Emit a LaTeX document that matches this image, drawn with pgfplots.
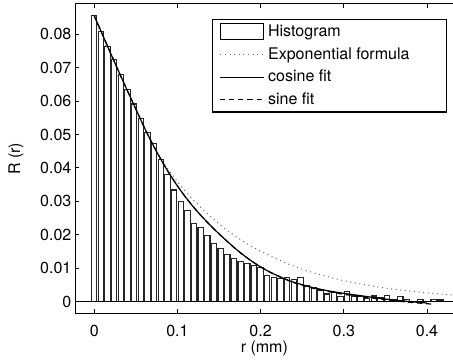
\documentclass[border=0pt]{standalone}
\usepackage{pgfplots}
\pgfplotsset{compat=1.18}
\usepackage{pgfplotstable}
\usepackage{fontspec}
\setmainfont{TeX Gyre Heros}

\pgfplotstableread{
x y
0.000 0.0855
0.008 0.0808
0.016 0.0763
0.024 0.0724
0.032 0.0678
0.040 0.0634
0.048 0.0591
0.056 0.0549
0.064 0.0507
0.072 0.0474
0.080 0.0425
0.088 0.0379
0.096 0.0334
0.104 0.0300
0.112 0.0272
0.120 0.0233
0.128 0.0223
0.136 0.0198
0.144 0.0175
0.152 0.0160
0.160 0.0140
0.168 0.0130
0.176 0.0119
0.184 0.0114
0.192 0.0107
0.200 0.0101
0.208 0.0077
0.216 0.0072
0.224 0.0070
0.232 0.0073
0.240 0.0067
0.248 0.0072
0.256 0.0049
0.264 0.0043
0.272 0.0035
0.280 0.0023
0.288 0.0027
0.296 0.0015
0.304 0.0031
0.312 0.0017
0.320 0.0015
0.328 0.0009
0.336 0.0017
0.344 0.0013
0.352 0.0018
0.360 0.0005
0.368 0.0015
0.376 0.0007
0.384 0.0001
0.392 0.0007
0.400 0.0001
0.408 0.0006
0.416 0.0005
0.424 0.0001
0.432 0.0001
}\histdata

\pgfplotstableread{
x y
0.00 0.0857
0.02 0.0720
0.04 0.0605
0.06 0.0509
0.08 0.0427
0.10 0.0359
0.12 0.0302
0.14 0.0254
0.16 0.0213
0.18 0.0179
0.20 0.0151
0.22 0.0127
0.24 0.0106
0.26 0.00894
0.28 0.00751
0.30 0.00631
0.32 0.00530
0.34 0.00446
0.36 0.00375
0.38 0.00315
0.40 0.00264
0.42 0.00222
0.44 0.00187
}\expdata

\pgfplotstableread{
x y
0.00 0.0855
0.01 0.0798
0.02 0.0741
0.03 0.0685
0.04 0.0630
0.05 0.0576
0.06 0.0522
0.07 0.0472
0.08 0.0426
0.09 0.0384
0.10 0.0346
0.11 0.0312
0.12 0.0281
0.13 0.0253
0.14 0.0227
0.15 0.0203
0.16 0.0180
0.17 0.0158
0.18 0.0138
0.19 0.0120
0.20 0.0104
0.21 0.0090
0.22 0.0078
0.23 0.0067
0.24 0.0058
0.26 0.0044
0.28 0.0033
0.30 0.0025
0.32 0.0018
0.34 0.0011
0.36 0.0005
0.38 0.0000
0.40 -0.0004
}\cosdata

\pgfplotstableread{
x y
0.00 0.0855
0.01 0.0798
0.02 0.0741
0.03 0.0685
0.04 0.0630
0.05 0.0576
0.06 0.0522
0.07 0.0472
0.08 0.0426
0.09 0.0384
0.10 0.0346
0.11 0.0312
0.12 0.0281
0.13 0.0253
0.14 0.0227
0.15 0.0203
0.16 0.0180
0.17 0.0158
0.18 0.0138
0.19 0.0120
0.20 0.0104
0.21 0.0090
0.22 0.0078
0.23 0.0067
0.24 0.0057
0.26 0.0042
0.28 0.0031
0.30 0.0022
0.32 0.0015
0.34 0.0009
0.36 0.0003
0.38 -0.0002
0.40 -0.0006
0.405 -0.0007
}\sindata

\begin{document}
\fontsize{8}{9.6}\selectfont
\begin{tikzpicture}
\begin{axis}[
  scale only axis,
  width=189pt, height=154.5pt,
  xmin=-0.023, xmax=0.432,
  ymin=-0.0035, ymax=0.089,
  xtick={0,0.1,0.2,0.3,0.4},
  xticklabels={0,0.1,0.2,0.3,0.4},
  ytick={0,0.01,0.02,0.03,0.04,0.05,0.06,0.07,0.08},
  yticklabels={0,0.01,0.02,0.03,0.04,0.05,0.06,0.07,0.08},
  ytick pos=left,
  tick align=inside,
  major tick length=2pt,
  tick style={black, line width=0.4pt},
  axis line style={black, line width=0.5pt},
  xticklabel style={yshift=-3pt},
  yticklabel style={xshift=1pt},
  xlabel={r (mm)},
  ylabel={R (r)},
  xlabel style={at={(axis description cs:0.5,0)}, anchor=center, yshift=-17.5pt},
  ylabel style={at={(axis description cs:0,0.5)}, anchor=center, yshift=29.5pt},
  legend cell align=left,
  legend style={at={(1,1)}, anchor=north east, xshift=-3.2pt, yshift=-7.5pt,
    draw=black, line width=0.6pt, inner xsep=3.5pt, inner ysep=0.5pt,
    row sep=0.3pt, fill=white},
]
\addlegendimage{legend image code/.code={\draw[black, line width=0.5pt, fill=white] (0pt,-3.9pt) rectangle (21.5pt,3.9pt);}}
\addlegendentry{Histogram}
\addlegendimage{legend image code/.code={\draw[black!60, line width=0.5pt, dash pattern=on 0.5pt off 1.8pt] (0pt,0pt) -- (21.5pt,0pt);}}
\addlegendentry{Exponential formula\hspace*{13pt}}
\addlegendimage{legend image code/.code={\draw[black, line width=0.6pt] (0pt,0pt) -- (21.5pt,0pt);}}
\addlegendentry{cosine fit}
\addlegendimage{legend image code/.code={\draw[black, line width=0.6pt, dash pattern=on 2.5pt off 2pt] (0pt,0pt) -- (21.5pt,0pt);}}
\addlegendentry{sine fit}

\addplot[forget plot, black!60, line width=0.5pt, dash pattern=on 0.5pt off 1.8pt, smooth] table[x=x,y=y] {\expdata};
\addplot[forget plot, ybar, bar width=0.0064, fill=white, draw=black!85, line width=0.55pt] table[x=x,y=y] {\histdata};
\addplot[forget plot, black, line width=0.4pt] coordinates {(-0.023,0) (0.432,0)};
\addplot[forget plot, black, line width=0.6pt, dash pattern=on 2.5pt off 2pt, smooth] table[x=x,y=y] {\sindata};
\addplot[forget plot, black, line width=0.6pt, smooth] table[x=x,y=y] {\cosdata};
\end{axis}
\pgfresetboundingbox
\path[use as bounding box] ([xshift=-37.5pt,yshift=-23.5pt]current axis.south west) rectangle ([xshift=-0.3pt,yshift=2pt]current axis.north east);
\end{tikzpicture}
\end{document}
